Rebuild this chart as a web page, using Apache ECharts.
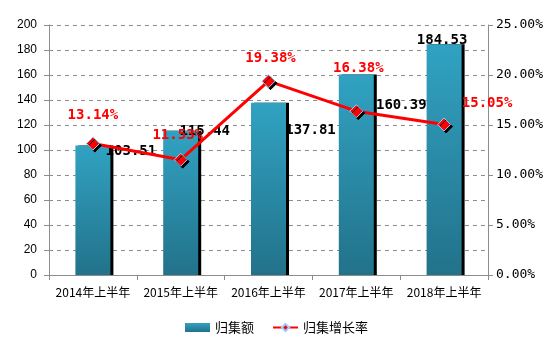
<!DOCTYPE html>
<html>
<head>
<meta charset="utf-8">
<script src="https://cdn.jsdelivr.net/npm/echarts@6/dist/echarts.min.js"></script>
<style>
  html, body { margin: 0; padding: 0; background: #fff; }
  #main { width: 553px; height: 353px; }
</style>
</head>
<body>
<div id="main"></div>
<script>
// 类目
const years = ['2014年上半年', '2015年上半年', '2016年上半年', '2017年上半年', '2018年上半年'];
// 归集额
const amounts = [103.51, 115.44, 137.81, 160.39, 184.53];
// 归集增长率 (%)
const rates = [13.14, 11.53, 19.38, 16.38, 15.05];

// 标签偏移（照着原图摆的位置）
const amountLabelOffsets = [[38, 13], [24, 8], [42, 35], [45, 38], [-2, 3]];
const rateLabelOffsets = [[0, -14], [-3, -10], [2, -9], [2, -29], [43, -7]];

const myChart = echarts.init(document.getElementById('main'));

const labelFont = '"DejaVu Sans Mono", "Liberation Mono", monospace';
const axisGray = '#8c8c8c';

const barGradient = new echarts.graphic.LinearGradient(0, 0, 0, 1, [
  { offset: 0, color: '#31a2c2' },
  { offset: 1, color: '#22728a' }
]);

const option = {
  animation: false,
  backgroundColor: '#fff',
  grid: { left: 49, right: 65, top: 25, bottom: 78 },
  legend: {
    bottom: 14,
    left: 'center',
    itemGap: 18,
    itemWidth: 25,
    itemHeight: 9,
    textStyle: { fontSize: 13, color: '#000', fontFamily: '"Noto Sans CJK SC", sans-serif' },
    data: [
      { name: '归集额', icon: 'rect' },
      { name: '归集增长率' }
    ]
  },
  xAxis: {
    type: 'category',
    data: years,
    axisLine: { lineStyle: { color: axisGray, width: 1 } },
    axisTick: { show: true, length: 5, lineStyle: { color: axisGray } },
    axisLabel: { interval: 0, color: '#000', fontSize: 12, margin: 11, fontFamily: '"Noto Sans CJK SC", sans-serif' }
  },
  yAxis: [
    {
      type: 'value',
      min: 0, max: 200, interval: 20,
      axisLine: { show: true, lineStyle: { color: axisGray } },
      axisTick: { show: true, length: 5, lineStyle: { color: axisGray } },
      axisLabel: { color: '#000', fontSize: 12, margin: 12, fontFamily: '"Liberation Sans", sans-serif' },
      splitLine: { show: true, lineStyle: { color: axisGray, type: [4, 4], width: 1 } }
    },
    {
      type: 'value',
      min: 0, max: 25, interval: 5,
      axisLine: { show: true, lineStyle: { color: axisGray } },
      axisTick: { show: true, length: 5, lineStyle: { color: axisGray } },
      axisLabel: {
        color: '#000', fontSize: 13, margin: 8, fontFamily: labelFont,
        formatter: v => v.toFixed(2) + '%'
      },
      splitLine: { show: false }
    }
  ],
  series: [
    {
      name: '归集额',
      type: 'bar',
      barWidth: 35,
      itemStyle: {
        color: barGradient,
        shadowColor: '#000',
        shadowBlur: 0,
        shadowOffsetX: 3,
        shadowOffsetY: 0
      },
      data: amounts.map((v, i) => ({
        value: v,
        label: { offset: amountLabelOffsets[i] }
      })),
      label: {
        show: true,
        position: 'top',
        distance: 0,
        color: '#000',
        fontSize: 14,
        fontWeight: 'bold',
        fontFamily: labelFont,
        textShadowColor: 'transparent'
      }
    },
    {
      name: '归集增长率',
      type: 'line',
      yAxisIndex: 1,
      symbol: 'diamond',
      symbolSize: 13,
      lineStyle: { color: '#ff0000', width: 3 },
      itemStyle: {
        color: '#ff0000',
        borderColor: '#9ccfff',
        borderWidth: 1,
        shadowColor: '#000',
        shadowBlur: 0,
        shadowOffsetX: 2,
        shadowOffsetY: 2
      },
      data: rates.map((v, i) => ({
        value: v,
        label: { offset: rateLabelOffsets[i] }
      })),
      label: {
        show: true,
        position: 'top',
        distance: 0,
        color: '#ff0000',
        fontSize: 14,
        fontWeight: 'bold',
        fontFamily: labelFont,
        textShadowColor: 'transparent',
        formatter: p => p.value.toFixed(2) + '%'
      },
      z: 5
    }
  ]
};

myChart.setOption(option);
</script>
</body>
</html>
